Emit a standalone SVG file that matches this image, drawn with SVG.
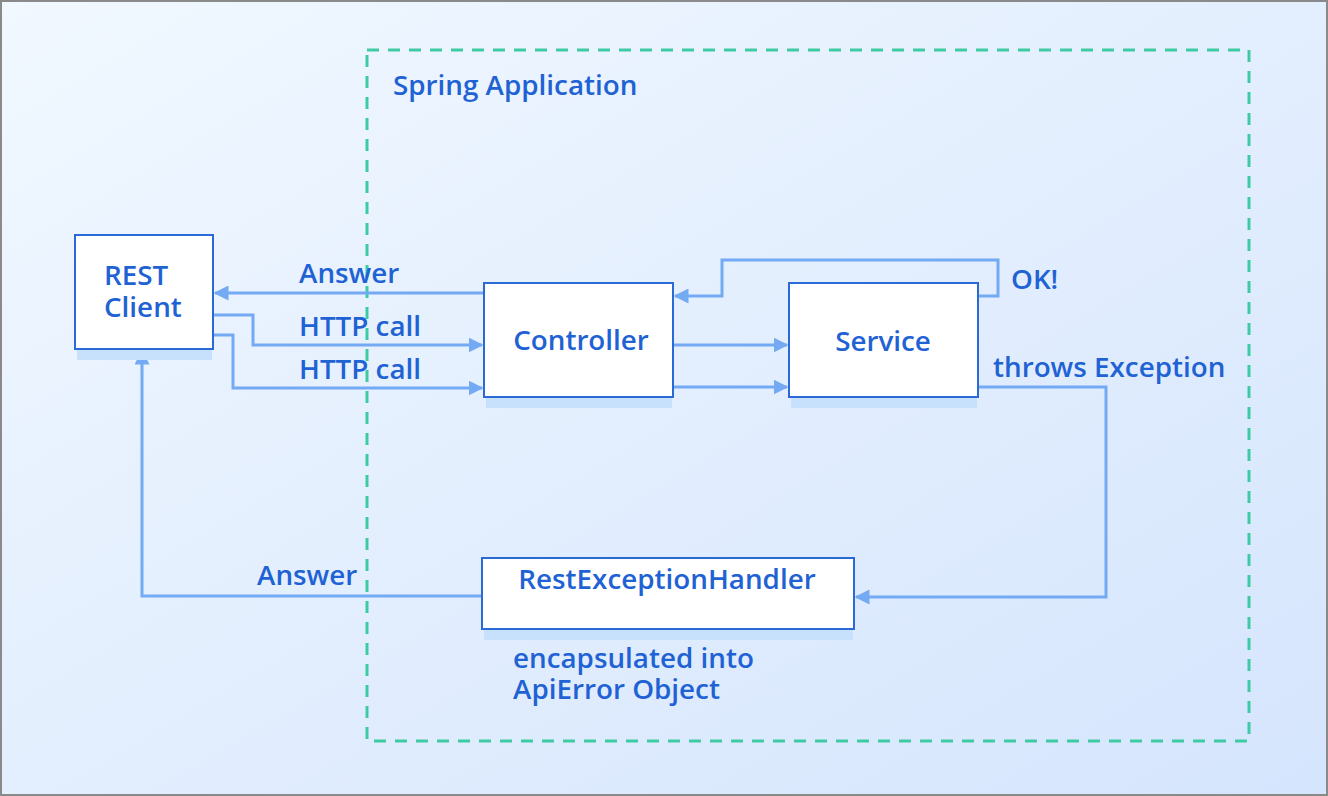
<svg xmlns="http://www.w3.org/2000/svg" width="1328" height="796" viewBox="0 0 1328 796">
<defs>
<linearGradient id="bg" x1="0" y1="0" x2="1" y2="1">
<stop offset="0" stop-color="#f1f8ff"/>
<stop offset="1" stop-color="#d5e5fd"/>
</linearGradient>
<marker id="arr" viewBox="0 0 10 10" refX="9" refY="5" markerWidth="15" markerHeight="15" markerUnits="userSpaceOnUse" orient="auto">
<path d="M0,0 L10,5 L0,10 z" fill="#74a9f4"/>
</marker>
<style>
.t{font-family:"Open Sans","Noto Sans",sans-serif;font-weight:600;fill:#1f62d4;font-size:27.8px}
.box{fill:#ffffff;stroke:#2a6ad6;stroke-width:2}
.sh{fill:#c7e0fb}
.c{fill:none;stroke:#74a9f4;stroke-width:3;marker-end:url(#arr)}
</style>
</defs>
<rect x="1" y="1" width="1326" height="794" fill="url(#bg)" stroke="#8a8a8a" stroke-width="2"/>
<g id="spring-app">
<rect x="367" y="50" width="882" height="691" fill="none" stroke="#3ecba4" stroke-width="3" stroke-dasharray="12 9"/>
<text class="t" x="393" y="95">Spring Application</text>
</g>
<g id="connectors">
<path class="c" d="M484,293 L215,293"/>
<path class="c" d="M213,315 L253,315 L253,345 L482,345"/>
<path class="c" d="M213,335 L233,335 L233,388 L482,388"/>
<path class="c" d="M673,345 L787,345"/>
<path class="c" d="M673,387 L787,387"/>
<path class="c" d="M978,296 L998,296 L998,260 L722,260 L722,296 L675,296"/>
<path class="c" d="M978,387 L1106,387 L1106,597 L856,597"/>
<path class="c" d="M482,596 L142,596 L142,351"/>
<text class="t" x="299" y="283">Answer</text>
<text class="t" x="299" y="336">HTTP call</text>
<text class="t" x="299" y="379">HTTP call</text>
<text class="t" x="1011" y="289">OK!</text>
<text class="t" x="993" y="377">throws Exception</text>
<text class="t" x="257" y="585">Answer</text>
</g>
<g id="rest-client">
<rect class="sh" x="77" y="349" width="135" height="11"/>
<rect class="box" x="75" y="235" width="138" height="114"/>
<text class="t" x="104" y="285">REST<tspan x="104" dy="32">Client</tspan></text>
</g>
<g id="controller">
<rect class="sh" x="486" y="397" width="186" height="11"/>
<rect class="box" x="484" y="283" width="189" height="114"/>
<text class="t" x="581" y="350" text-anchor="middle">Controller</text>
</g>
<g id="service">
<rect class="sh" x="791" y="397" width="186" height="11"/>
<rect class="box" x="789" y="283" width="189" height="114"/>
<text class="t" x="883" y="351" text-anchor="middle">Service</text>
</g>
<g id="rest-exception-handler">
<rect class="sh" x="484" y="629" width="369" height="11"/>
<rect class="box" x="482" y="558" width="372" height="71"/>
<text class="t" x="667" y="589" text-anchor="middle">RestExceptionHandler</text>
<text class="t" x="513" y="668">encapsulated into<tspan x="513" dy="31">ApiError Object</tspan></text>
</g>
</svg>
